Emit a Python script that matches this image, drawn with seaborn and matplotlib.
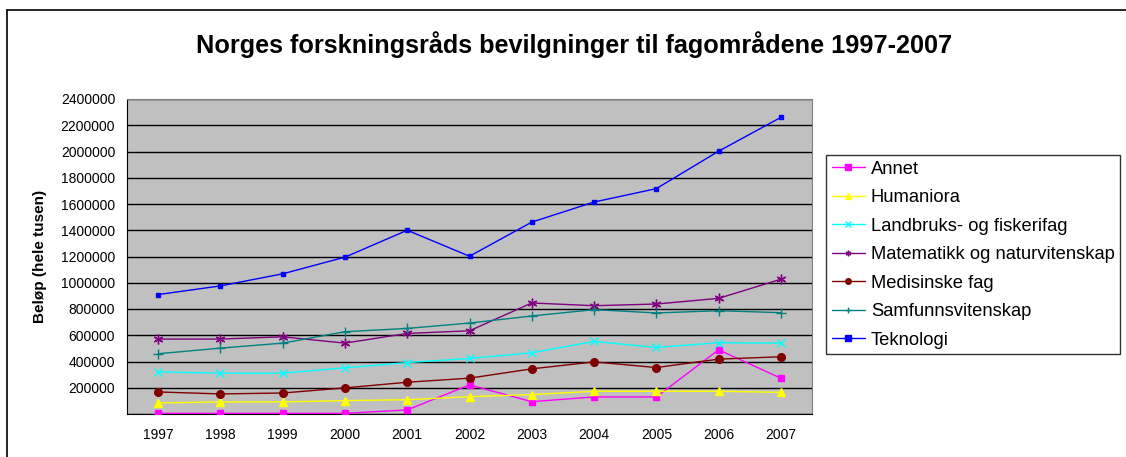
import numpy as np
import pandas as pd
import seaborn as sns
import matplotlib.pyplot as plt
from matplotlib.lines import Line2D

years = [1997, 1998, 1999, 2000, 2001, 2002, 2003, 2004, 2005, 2006, 2007]

annet = [5000, 5000, 5000, 5000, 31000, 222000, 94000, 130000, 130000, 489000, 273000]
humaniora = [84000, 92000, 92000, 102000, 109000, 132000, 148000, 173000, 173000, 173000, 165000]
landbruk = [321000, 311000, 311000, 352000, 392000, 423000, 466000, 553000, 507000, 543000, 540000]
matematikk = [571000, 571000, 588000, 540000, 614000, 634000, 846000, 825000, 838000, 881000, 1027000]
medisin = [168000, 153000, 160000, 199000, 242000, 273000, 344000, 397000, 354000, 418000, 436000]
samfunn = [459000, 502000, 540000, 627000, 652000, 693000, 747000, 795000, 770000, 787000, 772000]
teknologi = [910000, 976000, 1068000, 1195000, 1400000, 1202000, 1462000, 1615000, 1717000, 2002000, 2260000]

names = ['Annet', 'Humaniora', 'Landbruks- og fiskerifag', 'Matematikk og naturvitenskap',
         'Medisinske fag', 'Samfunnsvitenskap', 'Teknologi']
series = [annet, humaniora, landbruk, matematikk, medisin, samfunn, teknologi]

colors = ['#FF00FF', '#FFFF00', '#00FFFF', '#800080', '#800000', '#008080', '#0000FF']
markers = ['s', '^', 'x', (6, 2, 0), 'o', '+', 's']
msizes = [5, 6, 6, 7, 5.5, 7, 2.5]

rows = []
for name, vals in zip(names, series):
    for y, v in zip(years, vals):
        rows.append({'year': y, 'value': v, 'fag': name})
df = pd.DataFrame(rows)

sns.set_style('white')
plt.rcParams['font.family'] = ['Liberation Sans', 'DejaVu Sans']
plt.rcParams['text.color'] = 'black'
plt.rcParams['axes.labelcolor'] = 'black'
plt.rcParams['xtick.color'] = 'black'
plt.rcParams['ytick.color'] = 'black'

fig = plt.figure(figsize=(11.26, 4.57), dpi=100)
ax = fig.add_axes([127 / 1126, 1 - 414 / 457, (812 - 127) / 1126, (414 - 99) / 457])
ax.set_facecolor('#C0C0C0')

for i, name in enumerate(names):
    sub = df[df['fag'] == name]
    sns.lineplot(data=sub, x='year', y='value', ax=ax, color=colors[i], marker=markers[i],
                 markersize=msizes[i], markeredgecolor=colors[i], markeredgewidth=1.0,
                 linewidth=1.0, label=name, zorder=3 + i)

ax.set_xlim(1996.5, 2007.5)
ax.set_ylim(0, 2400000)
ax.set_xticks(np.arange(1996.5, 2008, 1))
ax.set_xticklabels([])
ax.set_xticks(years, minor=True)
ax.set_xticklabels([str(y) for y in years], minor=True, fontsize=10)
ax.tick_params(axis='x', which='major', direction='out', length=5, width=1, color='black')
ax.tick_params(axis='x', which='minor', length=0, pad=10)
yt = np.arange(0, 2400001, 200000)
ax.set_yticks(yt)
ax.set_yticklabels([''] + [str(v) for v in yt[1:]], fontsize=10)
ax.tick_params(axis='y', direction='out', length=5, width=1, color='black')
ax.yaxis.grid(True, color='black', linewidth=1)
ax.set_axisbelow(True)
for side in ['top', 'right']:
    ax.spines[side].set_color('#808080')
for side in ['left', 'bottom']:
    ax.spines[side].set_color('black')

ax.set_xlabel('')
ax.set_ylabel('Beløp (hele tusen)', fontsize=11, fontweight='bold', labelpad=10)

fig.suptitle('Norges forskningsråds bevilgninger til fagområdene 1997-2007',
             fontsize=18.2, fontweight='bold', x=574 / 1126, y=1 - 45 / 457, va='center')

leg = ax.legend(loc='upper left', bbox_to_anchor=(826 / 1126, 1 - 357 / 457, (1120 - 826) / 1126, (357 - 155) / 457),
                bbox_transform=fig.transFigure, mode='expand', frameon=True, fontsize=13.2,
                handlelength=1.8, handletextpad=0.35, borderpad=0.3, labelspacing=0.63,
                fancybox=False, borderaxespad=0)
leg.get_frame().set_edgecolor('black')
leg.get_frame().set_linewidth(1)
for h in leg.legend_handles:
    h.set_markersize(4)

fig.add_artist(Line2D([7 / 1126, 7 / 1126], [0, 1 - 10 / 457], color='black', linewidth=1.2, transform=fig.transFigure))
fig.add_artist(Line2D([7 / 1126, 1], [1 - 10 / 457, 1 - 10 / 457], color='black', linewidth=1.2, transform=fig.transFigure))

fig.savefig('out.png', dpi=100)
